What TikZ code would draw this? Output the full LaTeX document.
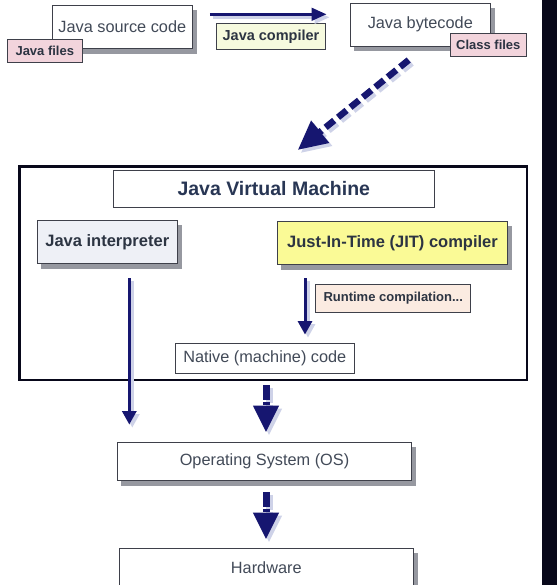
\documentclass[tikz,border=0pt]{standalone}
\usepackage{fontspec}
\setmainfont{Liberation Sans}
\usetikzlibrary{arrows.meta, backgrounds, positioning}
\definecolor{navy}{RGB}{22,22,112}
\definecolor{edge}{RGB}{62,64,74}
\definecolor{plain}{RGB}{66,74,88}
\definecolor{heavy}{RGB}{44,52,66}
\definecolor{pinkfill}{RGB}{242,212,220}
\definecolor{lime}{RGB}{246,250,222}
\definecolor{peach}{RGB}{251,235,225}
\definecolor{mist}{RGB}{238,240,246}
\definecolor{jityellow}{RGB}{250,250,150}
\definecolor{strip}{RGB}{8,8,26}
\definecolor{haze}{RGB}{206,210,232}
\definecolor{dusk}{RGB}{150,152,160}
\begin{document}
\begin{tikzpicture}[x=1pt, y=-1pt,
  box/.style={draw=edge, line width=0.9pt, fill=white, text=plain, inner sep=0pt,
    font=\fontsize{16.3}{19}\selectfont},
  boldbox/.style={box, text=heavy, font=\bfseries\fontsize{16.5}{19}\selectfont},
  tag/.style={draw=edge, line width=0.8pt, inner sep=0pt, text=heavy,
    font=\bfseries\fontsize{13}{15}\selectfont},
  flow/.style={line width=3pt, -{Triangle[length=13.5pt, width=14pt]}},
  bigflow/.style={line width=7pt, -{Triangle[length=27pt, width=24pt]},
    dash pattern=on 15pt off 1.5pt on 3pt off 12pt}]
\useasboundingbox (0,0) rectangle (557,585);

\node[box, minimum width=140pt, minimum height=43pt] (src) at (122.3,26.8) {Java source code};
\node[tag, fill=pinkfill, minimum width=75pt, minimum height=23pt] (jfiles) at (44.8,50.8) {Java files};
\node[box, minimum width=140pt, minimum height=42.7pt] (byte) at (420.3,24.7) {Java bytecode};
\node[tag, fill=pinkfill, minimum width=76pt, minimum height=22.7pt] (cfiles) at (488.3,44.7) {Class files};
\node[tag, fill=lime, minimum width=108.6pt, minimum height=26pt, font=\bfseries\fontsize{14.5}{17}\selectfont] (javac) at (271,36.3) {Java compiler};

\node[draw=strip, line width=2.5pt, minimum width=507.5pt, minimum height=213.3pt] (jvm) at (273,273.3) {};
\node[box, minimum width=321pt, minimum height=36.6pt, text={rgb,255:red,40;green,54;blue,84},
  font=\bfseries\fontsize{19.5}{22}\selectfont] (title) at (273.8,189) {Java Virtual Machine};
\node[boldbox, fill=mist, minimum width=140pt, minimum height=42.6pt] (interp) at (107.3,242) {Java interpreter};
\node[boldbox, fill=jityellow, minimum width=230.4pt, minimum height=42.6pt] (jit) at (392.5,243) {Just-In-Time (JIT) compiler};
\node[tag, fill=peach, minimum width=155pt, minimum height=28pt] (rtc) at (393.2,298.3) {Runtime compilation...};
\node[box, minimum width=179pt, minimum height=30pt] (native) at (264.8,358.3) {Native (machine) code};

\node[box, minimum width=294.4pt, minimum height=38pt] (os) at (264.5,461.7) {Operating System (OS)};
\node[box, minimum width=294pt, minimum height=38pt] (hw) at (266.3,567.3) {Hardware};

\coordinate (bcout) at (408.7,60);
\coordinate (jvmin) at (297.7,150);

\foreach \c/\s in {haze/3pt, navy/0pt} {
\draw[flow, draw=\c, -{Triangle[length=15pt, width=12.5pt]}, shorten <=17pt, shorten >=23.3pt]
  ([xshift=\s, yshift=12.5pt-\s]src.east) -- ([xshift=\s, yshift=12.5pt-\s]src.east -| byte.west);
\draw[bigflow, draw=\c, line width=6.5pt, dash pattern=on 11pt off 5pt, -{Triangle[length=29pt, width=27pt]}]
  ([xshift=\s, yshift=-\s]bcout) -- ([xshift=\s, yshift=-\s]jvmin);
\draw[flow, draw=\c, shorten <=13.7pt, shorten >=8.3pt]
  ([xshift=-87.5pt+\s, yshift=-\s]jit.south) -- ([xshift=-87.5pt+\s, yshift=-\s]jit.south |- native.north);
\draw[flow, draw=\c, shorten <=14.7pt, shorten >=17.7pt]
  ([xshift=22pt+\s, yshift=-\s]interp.south) -- ([xshift=22pt+\s, yshift=-\s]interp.south |- os.north);
\draw[bigflow, draw=\c, shorten <=11.7pt, shorten >=9.7pt]
  ([xshift=1.2pt+\s, yshift=-\s]native.south) -- ([xshift=1.2pt+\s, yshift=-\s]native.south |- os.north);
\draw[bigflow, draw=\c, shorten <=11pt, shorten >=8.3pt]
  ([xshift=1.5pt+\s, yshift=-\s]os.south) -- ([xshift=1.5pt+\s, yshift=-\s]os.south |- hw.north);
}

\begin{scope}[on background layer]
\fill[white] (0,0) rectangle (557,585);
\fill[strip] (542,0) rectangle (557,585);
\foreach \n in {src,byte,interp,jit,os,hw}
  \fill[dusk] ([xshift=4pt, yshift=-5pt]\n.south west) rectangle ([xshift=4pt, yshift=-5pt]\n.north east);
\end{scope}
\end{tikzpicture}
\end{document}
